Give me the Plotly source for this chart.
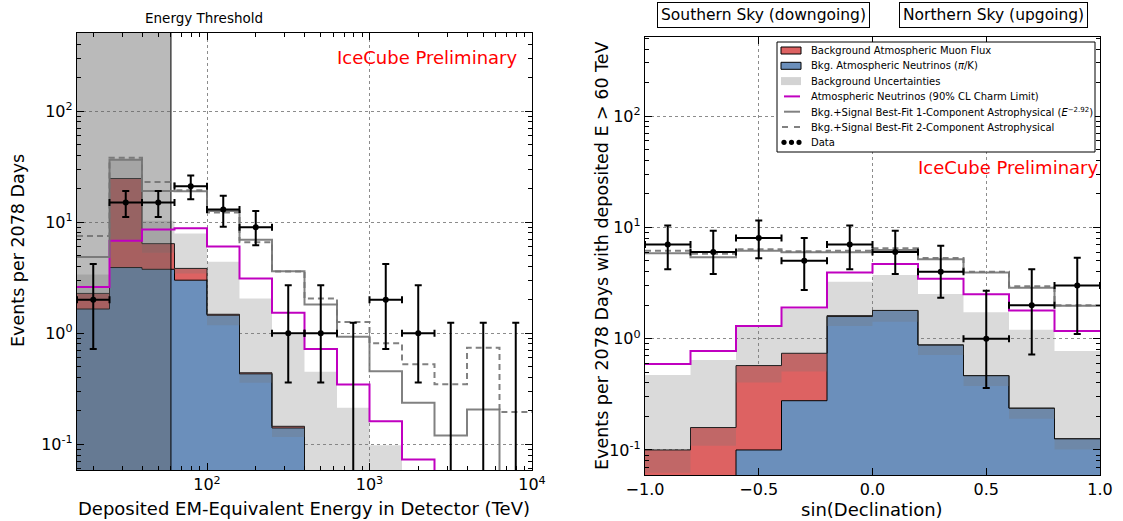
import plotly.graph_objects as go

W, H = 1123, 521

# ---------------- Left panel: deposited energy (TeV) ----------------
e_edges = [15.85, 25.12, 39.81, 63.10, 100.0, 158.5, 251.2, 398.1, 631.0,
           1000.0, 1585, 2512, 3981, 6310, 10000]
e_centers = [19.95, 31.62, 50.12, 79.43, 125.9, 199.5, 316.2, 501.2, 794.3,
             1259, 1995, 3162, 5012, 7943]
e_nu = [1.65, 3.9, 3.76, 3.0, 1.45, 0.43, 0.14, 0.05, 0.02, 0.008, 0.003, 0.001, 0.0005, 0.0002]
e_mu = [0.63, 20.8, 2.64, 0.83, 0.03, 0.01, 0.005, 0.002, 0.001, 0.0005, 0.0002, 0.0001, 0.0001, 0.0001]
e_band_lo = [1.98, 6.9, 5.3, 3.44, 1.18, 0.357, 0.116, 0.04, 0.015, 0.006, 0.002, 0.001, 0.0005, 0.0002]
e_band_hi = [3.38, 36.5, 10.3, 7.9, 4.4, 2.05, 0.97, 0.45, 0.213, 0.098, 0.045, 0.02, 0.01, 0.005]
e_charm = [2.61, 6.8, 8.6, 8.8, 6.04, 3.1, 1.53, 0.72, 0.345, 0.161, 0.073, 0.034, 0.016, 0.007]
e_fit1 = [4.85, 36.5, 19.1, 19.0, 12.6, 6.95, 3.62, 1.81, 0.93, 0.455, 0.236, 0.12, 0.205, 0.0001]
e_fit2 = [7.5, 38.0, 23.0, 19.4, 12.2, 6.6, 3.6, 2.05, 1.26, 0.81, 0.526, 0.347, 0.74, 0.195]
e_data = [2, 15, 15, 21, 13, 9, 1, 1, 0, 2, 1, 0, 0, 0]
e_data_lo = [0.72, 11.1, 11.1, 16.1, 9.1, 6.2, 0.36, 0.36, 0, 0.72, 0.36, 0, 0, 0]
e_data_hi = [4.2, 19.1, 19.1, 26.3, 17.3, 12.6, 2.7, 2.7, 1.24, 4.2, 2.7, 1.24, 1.24, 1.24]
threshold_tev = 60.0

# ---------------- Right panel: sin(declination) ----------------
d_edges = [-1.0, -0.8, -0.6, -0.4, -0.2, 0.0, 0.2, 0.4, 0.6, 0.8, 1.0]
d_centers = [-0.9, -0.7, -0.5, -0.3, -0.1, 0.1, 0.3, 0.5, 0.7, 0.9]
d_nu = [0.02, 0.03, 0.1, 0.277, 1.58, 1.79, 0.877, 0.465, 0.237, 0.126]
d_mu = [0.08, 0.129, 0.473, 0.462, 0.03, 0.003, 0.002, 0.001, 0.0005, 0.0003]
d_band_lo = [0.0625, 0.109, 0.403, 0.506, 1.3, 1.42, 0.714, 0.376, 0.191, 0.101]
d_band_hi = [0.472, 0.644, 1.30, 1.85, 3.25, 3.73, 2.52, 1.73, 1.2, 0.775]
d_charm = [0.593, 0.775, 1.30, 1.9, 3.92, 4.69, 3.46, 2.5, 1.79, 1.17]
d_fit1 = [5.85, 5.39, 6.17, 5.97, 5.97, 6.27, 5.17, 3.92, 2.87, 1.97]
d_fit2 = [6.17, 5.8, 6.36, 6.1, 6.17, 6.5, 5.3, 4.0, 2.95, 2.0]
d_data = [7, 6, 8, 5, 7, 6, 4, 1, 2, 3]
d_data_lo = [4.2, 3.81, 5.28, 2.74, 4.2, 3.81, 2.33, 0.36, 0.72, 1.1]
d_data_hi = [10.4, 9.34, 11.5, 8.0, 10.4, 9.34, 6.85, 2.7, 4.2, 5.34]

legend_labels = [
    "Background Atmospheric Muon Flux",
    "Bkg. Atmospheric Neutrinos (<i>π</i>/K)",
    "Background Uncertainties",
    "Atmospheric Neutrinos (90% CL Charm Limit)",
    "Bkg.+Signal Best-Fit 1-Component Astrophysical (<i>E</i><sup>−2.92</sup>)",
    "Bkg.+Signal Best-Fit 2-Component Astrophysical",
    "Data",
]

RED = "#dd6262"
BLUE = "#6b8fbb"
BAND = "rgba(120,120,120,0.27)"
MAGENTA = "#c000c0"
GRAY = "rgba(115,115,115,0.9)"
FONT = "DejaVu Sans"

fig = go.Figure()


def stepy(vals):
    return list(vals) + [vals[-1]]


def add_panel(edges, centers, nu, mu, blo, bhi, charm, fit1, fit2, data, dlo, dhi,
              xa, ya, threshold=None):
    common = dict(xaxis=xa, yaxis=ya, hoverinfo="skip", line_shape="hv", showlegend=False)
    floor = [1e-5] * len(edges)
    fig.add_trace(go.Scatter(x=edges, y=floor, mode="lines", line=dict(width=0), **common))
    fig.add_trace(go.Scatter(x=edges, y=stepy(nu), mode="lines", fill="tonexty",
                             fillcolor=BLUE, line=dict(color="black", width=1), **common))
    tot = [a + b for a, b in zip(nu, mu)]
    fig.add_trace(go.Scatter(x=edges, y=stepy(tot), mode="lines", fill="tonexty",
                             fillcolor=RED, line=dict(color="black", width=1), **common))
    fig.add_trace(go.Scatter(x=edges, y=stepy(blo), mode="lines", line=dict(width=0), **common))
    fig.add_trace(go.Scatter(x=edges, y=stepy(bhi), mode="lines", fill="tonexty",
                             fillcolor=BAND, line=dict(width=0, color=BAND), **common))
    if threshold is not None:
        lo, hi = 1e-3, 1e4
        fig.add_trace(go.Scatter(x=[edges[0], threshold, threshold, edges[0], edges[0]],
                                 y=[lo, lo, hi, hi, lo], mode="lines", fill="toself",
                                 fillcolor="rgba(95,95,95,0.43)", line=dict(width=0),
                                 showlegend=False, xaxis=xa, yaxis=ya, hoverinfo="skip"))
        fig.add_trace(go.Scatter(x=[threshold, threshold], y=[lo, hi], mode="lines",
                                 line=dict(color="black", width=1), showlegend=False,
                                 xaxis=xa, yaxis=ya, hoverinfo="skip"))
    fig.add_trace(go.Scatter(x=edges, y=stepy(charm), mode="lines",
                             line=dict(color=MAGENTA, width=2), **common))
    fig.add_trace(go.Scatter(x=edges, y=stepy(fit1), mode="lines",
                             line=dict(color=GRAY, width=2), **common))
    fig.add_trace(go.Scatter(x=edges, y=stepy(fit2), mode="lines",
                             line=dict(color=GRAY, width=2, dash="6px,4px"), **common))
    xs, ys, eu, ed, xp, xm = [], [], [], [], [], []
    zx, zu = [], []
    for i, n in enumerate(data):
        if n > 0:
            xs.append(centers[i]); ys.append(n)
            eu.append(dhi[i] - n); ed.append(n - dlo[i])
            xp.append(edges[i + 1] - centers[i]); xm.append(centers[i] - edges[i])
        else:
            zx.append(centers[i]); zu.append(dhi[i])
    fig.add_trace(go.Scatter(x=xs, y=ys, mode="markers",
                             marker=dict(color="black", size=6),
                             error_y=dict(type="data", array=eu, arrayminus=ed, color="black",
                                          thickness=2, width=3.5),
                             error_x=dict(type="data", array=xp, arrayminus=xm, color="black",
                                          thickness=2, width=3.5),
                             showlegend=False, xaxis=xa, yaxis=ya, hoverinfo="skip"))
    if zx:
        base = 1e-3
        fig.add_trace(go.Scatter(x=zx, y=[base] * len(zx), mode="markers",
                                 marker=dict(color="black", size=1, opacity=0),
                                 error_y=dict(type="data", array=[u - base for u in zu],
                                              arrayminus=[0] * len(zx), color="black",
                                              thickness=2, width=3.5),
                                 showlegend=False, xaxis=xa, yaxis=ya, hoverinfo="skip"))


add_panel(e_edges, e_centers, e_nu, e_mu, e_band_lo, e_band_hi, e_charm, e_fit1, e_fit2,
          e_data, e_data_lo, e_data_hi, "x", "y", threshold=threshold_tev)
add_panel(d_edges, d_centers, d_nu, d_mu, d_band_lo, d_band_hi, d_charm, d_fit1, d_fit2,
          d_data, d_data_lo, d_data_hi, "x2", "y2")

tickfont = dict(family=FONT, size=16, color="black")
pow_vals = [0.1, 1, 10, 100]
pow_text = ["10<sup>-1</sup>", "10<sup>0</sup>", "10<sup>1</sup>", "10<sup>2</sup>"]
minor_log = [k * 10 ** p for p in range(-2, 5) for k in range(2, 10)]

axis_common = dict(showline=True, linecolor="black", linewidth=1.3, mirror="allticks",
                   ticks="inside", ticklen=7, tickwidth=1, tickcolor="black",
                   showgrid=True, gridcolor="rgba(0,0,0,0.45)", griddash="dot", gridwidth=1,
                   zeroline=False, tickfont=tickfont, automargin=False)
minor_common = dict(ticks="inside", ticklen=3.5, tickcolor="black", showgrid=False,
                    tickmode="array", tickvals=minor_log)

fig.update_layout(
    width=W, height=H, margin=dict(l=0, r=0, t=0, b=0, autoexpand=False),
    paper_bgcolor="white", plot_bgcolor="white", showlegend=False,
    font=dict(family=FONT, color="black"),
    xaxis=dict(domain=[77 / W, 532 / W], type="log", range=[1.2, 4.0], anchor="y",
               tickmode="array", tickvals=[100, 1000, 10000],
               ticktext=["10<sup>2</sup>", "10<sup>3</sup>", "10<sup>4</sup>"],
               minor=minor_common, **axis_common),
    yaxis=dict(domain=[1 - 470 / H, 1 - 33 / H], type="log", range=[-1.232, 2.703], anchor="x",
               tickmode="array", tickvals=pow_vals, ticktext=pow_text,
               minor=minor_common, **axis_common),
    xaxis2=dict(domain=[645 / W, 1100 / W], range=[-1.0, 1.0], anchor="y2",
                tickmode="array", tickvals=[-1.0, -0.5, 0.0, 0.5, 1.0],
                ticktext=["−1.0", "−0.5", "0.0", "0.5", "1.0"], **axis_common),
    yaxis2=dict(domain=[1 - 475 / H, 1 - 37 / H], type="log", range=[-1.225, 2.71], anchor="x2",
                tickmode="array", tickvals=pow_vals, ticktext=pow_text,
                minor=minor_common, **axis_common),
)


def PX(x):
    return x / W


def PY(y):
    return 1 - y / H


def ann(text, x, y, size, color="black", angle=0, xanchor="center", **kw):
    fig.add_annotation(text=text, x=PX(x), y=PY(y), xref="paper", yref="paper",
                       showarrow=False, font=dict(family=FONT, size=size, color=color),
                       textangle=angle, xanchor=xanchor, yanchor="middle", **kw)


def rect(x0, y0, x1, y1, fill, line_color=None, lw=1):
    fig.add_shape(type="rect", xref="paper", yref="paper", x0=PX(x0), x1=PX(x1),
                  y0=PY(y1), y1=PY(y0), fillcolor=fill,
                  line=dict(color=line_color or fill, width=lw if line_color else 0))


def seg(x0, x1, y, color, width=2, dash="solid"):
    fig.add_shape(type="line", xref="paper", yref="paper", x0=PX(x0), x1=PX(x1),
                  y0=PY(y), y1=PY(y), line=dict(color=color, width=width, dash=dash))


def dot(x, y, r):
    fig.add_shape(type="circle", xref="paper", yref="paper", x0=PX(x - r), x1=PX(x + r),
                  y0=PY(y + r), y1=PY(y - r), fillcolor="black", line=dict(width=0))


# ---- legend (matplotlib-style, compact) ----
rect(777, 42, 1095, 152, "white", "black", 1)
rows = [50.5 + 15.3 * i for i in range(len(legend_labels))]
rect(781, rows[0] - 3.5, 801, rows[0] + 3.5, RED, "black", 1)
rect(781, rows[1] - 3.5, 801, rows[1] + 3.5, BLUE, "black", 1)
rect(781, rows[2] - 4, 801, rows[2] + 4, "#d3d3d3")
seg(784, 800, rows[3], MAGENTA)
seg(784, 800, rows[4], GRAY)
seg(782, 801, rows[5], GRAY, dash="6px,6px")
for xd in (784, 791.5, 799):
    dot(xd, rows[6], 2.6)
for lab, yy in zip(legend_labels, rows):
    ann(lab, 809, yy, 10, xanchor="left")

# ---- other texts ----
ann("Energy Threshold", 204, 18, 13.5)
ann("IceCube Preliminary", 427, 57, 18, color="red")
ann("IceCube Preliminary", 1008, 167, 18, color="red")
ann("Southern Sky (downgoing)", 764, 15, 15.5, bordercolor="black", borderwidth=1,
    borderpad=3, bgcolor="white")
ann("Northern Sky (upgoing)", 993, 15, 15.5, bordercolor="black", borderwidth=1,
    borderpad=3, bgcolor="white")
ann("Events per 2078 Days", 18, 251, 17.5, angle=-90)
ann("Events per 2078 Days with deposited E > 60 TeV", 602, 256, 17.5, angle=-90)
ann("Deposited EM-Equivalent Energy in Detector (TeV)", 304, 508, 18)
ann("sin(Declination)", 872, 509, 18)

fig.write_html("out.html")
